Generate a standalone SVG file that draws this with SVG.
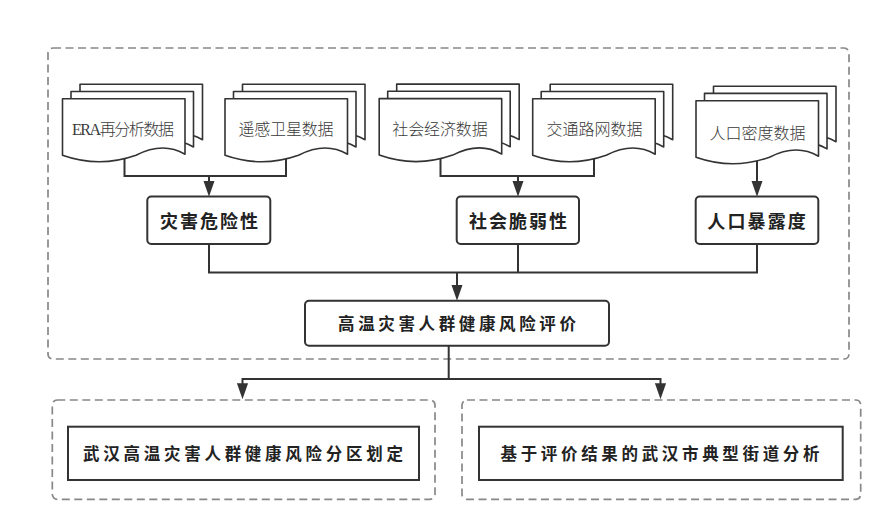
<svg xmlns="http://www.w3.org/2000/svg" xmlns:xlink="http://www.w3.org/1999/xlink" width="891" height="532" viewBox="0 0 891 532">
<style>
.dash{fill:none;stroke:#888;stroke-width:1.7;stroke-dasharray:8 4.5}
.doc{fill:#fff;stroke:#333;stroke-width:1.6;stroke-linejoin:round}
.box{fill:#fff;stroke:#333;stroke-width:2}
.conn{fill:none;stroke:#333;stroke-width:2}
.dt{font-family:"Noto Sans CJK SC",sans-serif;font-size:16px;font-weight:300;fill:#3a3a3a;text-anchor:middle}
.era{font-family:"Liberation Serif","Noto Sans CJK SC",serif}
.bt{font-family:"Noto Sans CJK SC",sans-serif;font-size:18px;font-weight:bold;fill:#222;text-anchor:middle}
.mt{font-family:"Noto Sans CJK SC",sans-serif;font-size:16.5px;font-weight:bold;fill:#222;text-anchor:middle}
</style>
<defs>
<path id="docshape" d="M0,0 H122.5 V55.5 Q100.5,42.5 73.5,56.5 Q36.75,69.5 0,56.5 Z"/>
<g id="stack">
<use href="#docshape" class="doc" x="17.5" y="-14.5"/>
<use href="#docshape" class="doc" x="8.5" y="-7.3"/>
<use href="#docshape" class="doc" x="0" y="0"/>
</g>
<marker id="arr" markerUnits="userSpaceOnUse" markerWidth="16" markerHeight="12" viewBox="0 0 15 10.5" refX="5" refY="5.25" orient="auto">
<path d="M0,0 L15,5.25 L0,10.5 Z" fill="#333"/>
</marker>
</defs>

<g id="containers">
<rect class="dash" x="48" y="48" width="801" height="311" rx="5"/>
<rect class="dash" x="52.3" y="400" width="382.7" height="99.3" rx="5"/>
<rect class="dash" x="462" y="400" width="398.7" height="99.3" rx="5"/>
</g>

<g id="connectors">
<path class="conn" d="M124.5,159 V176 H286 V159"/>
<path class="conn" d="M209,176 V186" marker-end="url(#arr)"/>
<path class="conn" d="M440.5,159 V176 H594 V159"/>
<path class="conn" d="M518,176 V186" marker-end="url(#arr)"/>
<path class="conn" d="M757,160 V186" marker-end="url(#arr)"/>
<path class="conn" d="M209,244 V272.5 H757 V244"/>
<path class="conn" d="M518,244 V272.5"/>
<path class="conn" d="M457,272.5 V290" marker-end="url(#arr)"/>
<path class="conn" d="M448.7,345.7 V379"/>
<path class="conn" d="M242.5,379 H660.5"/>
<path class="conn" d="M242.5,378 V388.5" marker-end="url(#arr)"/>
<path class="conn" d="M660.5,378 V388.5" marker-end="url(#arr)"/>
</g>

<g id="doc-era">
<use href="#stack" x="62.5" y="98.8"/>
<text class="dt era" x="123" y="134.5" textLength="102" lengthAdjust="spacing">ERA再分析数据</text>
</g>
<g id="doc-rs">
<use href="#stack" x="225" y="98.8"/>
<text class="dt" x="286" y="134.5" textLength="95" lengthAdjust="spacing">遥感卫星数据</text>
</g>
<g id="doc-se">
<use href="#stack" x="379.2" y="98.6"/>
<text class="dt" x="440" y="134.5" textLength="95.5" lengthAdjust="spacing">社会经济数据</text>
</g>
<g id="doc-road">
<use href="#stack" x="532.7" y="98.8"/>
<text class="dt" x="594.5" y="134.5" textLength="96" lengthAdjust="spacing">交通路网数据</text>
</g>
<g id="doc-pop">
<use href="#stack" x="696" y="100.7"/>
<text class="dt" x="757.5" y="138.5" textLength="96" lengthAdjust="spacing">人口密度数据</text>
</g>

<g id="hazard">
<rect class="box" x="147.3" y="196.5" width="123" height="47.5" rx="4"/>
<text class="bt" x="209" y="227.5" textLength="98" lengthAdjust="spacing">灾害危险性</text>
</g>
<g id="vulnerability">
<rect class="box" x="456.7" y="196.5" width="122.3" height="47.5" rx="4"/>
<text class="bt" x="518" y="227.5" textLength="98" lengthAdjust="spacing">社会脆弱性</text>
</g>
<g id="exposure">
<rect class="box" x="695.7" y="196.5" width="122.6" height="47.5" rx="4"/>
<text class="bt" x="756.5" y="227.5" textLength="98.5" lengthAdjust="spacing">人口暴露度</text>
</g>
<g id="assessment">
<rect class="box" x="305" y="300.7" width="304" height="45" rx="4"/>
<text class="mt" x="457" y="330" textLength="238" lengthAdjust="spacing">高温灾害人群健康风险评价</text>
</g>
<g id="zoning">
<rect class="box" x="68" y="426.7" width="351" height="53.3"/>
<text class="mt" x="243" y="460" textLength="320" lengthAdjust="spacing">武汉高温灾害人群健康风险分区划定</text>
</g>
<g id="street">
<rect class="box" x="479" y="426.7" width="363.7" height="53.3"/>
<text class="mt" x="660" y="460" textLength="319" lengthAdjust="spacing">基于评价结果的武汉市典型街道分析</text>
</g>
</svg>
